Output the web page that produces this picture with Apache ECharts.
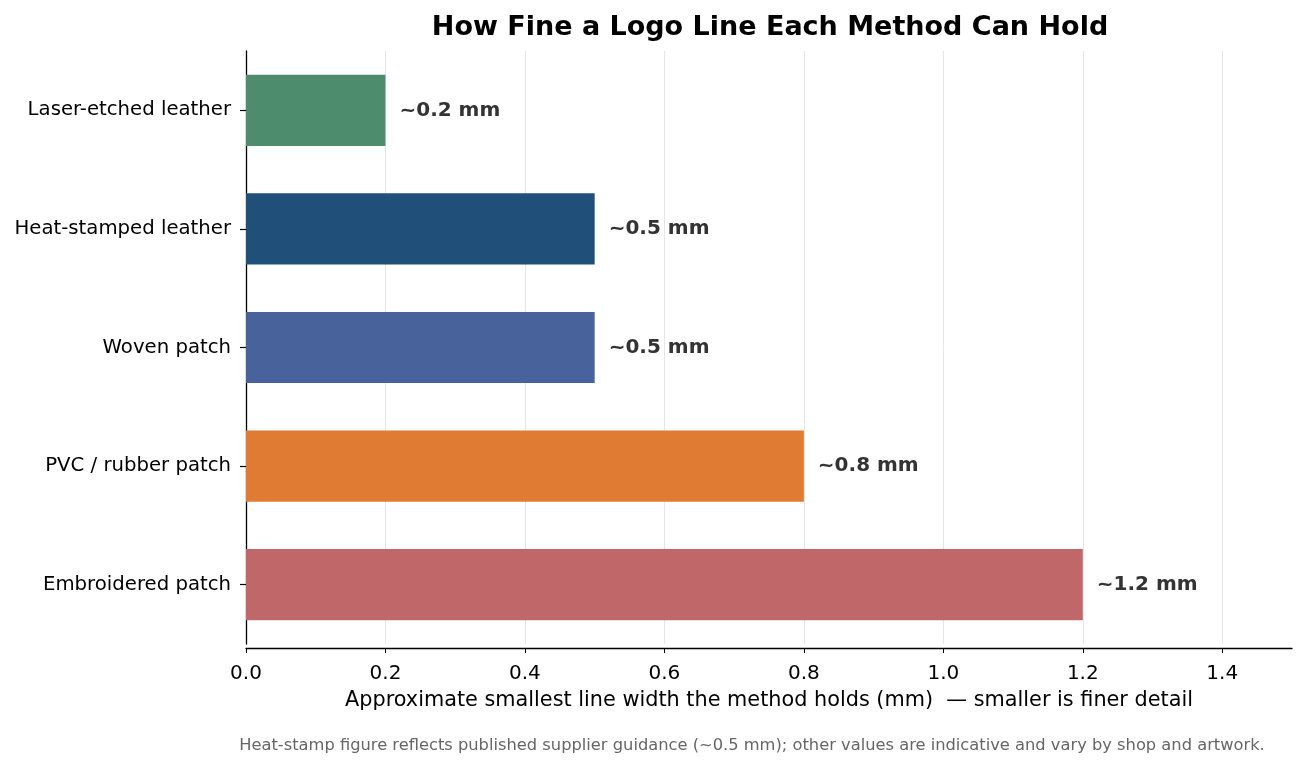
<!DOCTYPE html>
<html><head><meta charset="utf-8">
<script src="https://cdn.jsdelivr.net/npm/echarts@6/dist/echarts.min.js"></script>
<style>html,body{margin:0;padding:0;background:#fff}#c{width:1307px;height:767px}</style>
</head><body><div id="c"></div>
<script>
const categories = ["Laser-etched leather","Heat-stamped leather","Woven patch","PVC / rubber patch","Embroidered patch"];
const values = [0.2, 0.5, 0.5, 0.8, 1.2];
const valueLabels = ["~0.2 mm","~0.5 mm","~0.5 mm","~0.8 mm","~1.2 mm"];
const barColors = ["#4e8c6e","#20507a","#48639b","#e07b33","#c0676a"];
const xTicks = [0,0.2,0.4,0.6,0.8,1.0,1.2,1.4];
const titleText = "How Fine a Logo Line Each Method Can Hold";
const xAxisTitle = "Approximate smallest line width the method holds (mm)  \u2014 smaller is finer detail";
const footnote = "Heat-stamp figure reflects published supplier guidance (~0.5 mm); other values are indicative and vary by shop and artwork.";

const FONT = "'DejaVu Sans', sans-serif";
const chart = echarts.init(document.getElementById('c'), null, {renderer:'canvas'});
chart.setOption({
  animation:false,
  textStyle:{fontFamily:FONT},
  title:[
    {text:titleText,left:765,top:9,textAlign:'center',textStyle:{fontFamily:FONT,fontSize:27,fontWeight:'bold',color:'#000'}},
    {text:footnote,left:747,top:733,textAlign:'center',textStyle:{fontFamily:FONT,fontSize:16.3,fontWeight:'normal',color:'#666'}}
  ],
  grid:{left:246,right:15,top:51,bottom:123,containLabel:false},
  xAxis:{type:'value',min:0,max:1.5,interval:0.2,offset:4,
    axisLine:{show:true,lineStyle:{color:'#000',width:1.3}},
    axisTick:{show:true,length:5,customValues:xTicks,lineStyle:{color:'#000'}},
    axisLabel:{fontSize:20,color:'#000',margin:16,fontFamily:FONT,customValues:xTicks,
      formatter:v=>Number(v).toFixed(1)},
    splitLine:{show:true,lineStyle:{color:['#e6e6e6','#e6e6e6','#e6e6e6','#e6e6e6','#e6e6e6','#e6e6e6','#e6e6e6','#e6e6e6','rgba(0,0,0,0)'],width:1}},
    name:xAxisTitle,nameLocation:'middle',nameGap:42,
    nameTextStyle:{fontSize:20.8,color:'#000',fontFamily:FONT}
  },
  yAxis:{type:'category',data:categories,inverse:true,
    axisLine:{show:true,lineStyle:{color:'#000',width:1.3}},
    axisTick:{show:true,alignWithLabel:true,length:6,lineStyle:{color:'#000',width:1.2}},
    axisLabel:{fontSize:19.7,color:'#000',margin:15,fontFamily:FONT},
    splitLine:{show:false}
  },
  series:[{type:'bar',barWidth:'60%',
    data:values.map((v,i)=>({value:v,itemStyle:{color:barColors[i]},
      label:{show:true,position:'right',distance:14,formatter:valueLabels[i],fontSize:20,fontWeight:'bold',color:'#333',fontFamily:FONT}}))
  }]
});
</script></body></html>
